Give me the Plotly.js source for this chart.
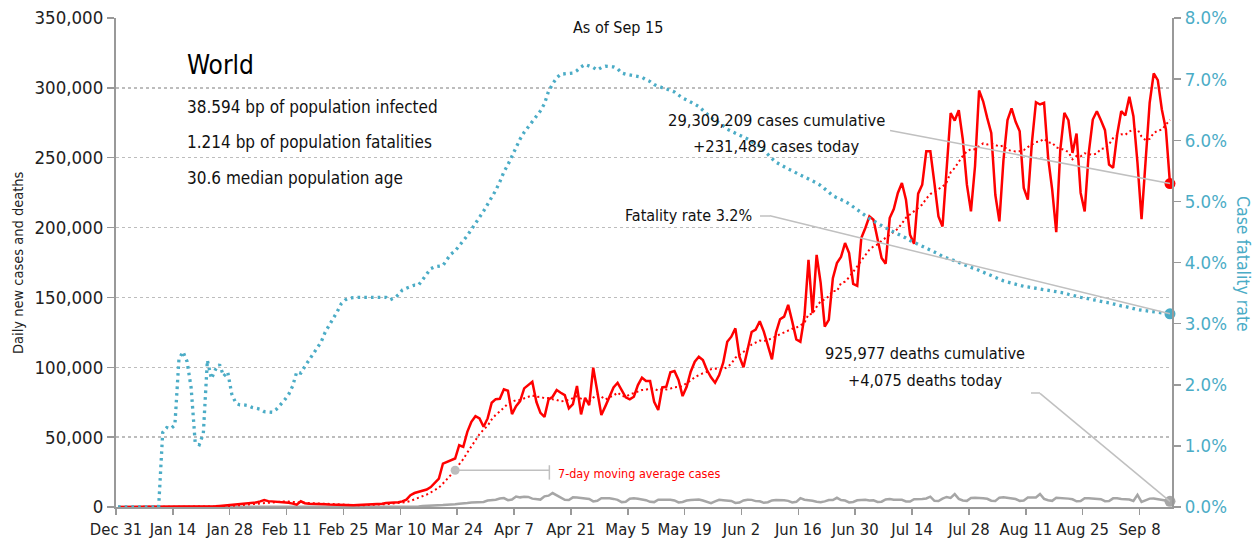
<!DOCTYPE html>
<html>
<head>
<meta charset="utf-8">
<script src="https://cdn.plot.ly/plotly-3.0.1.min.js"></script>
<style>html,body{margin:0;padding:0;background:#fff;}#chart{width:1256px;height:544px;}</style>
</head>
<body>
<div id="chart"></div>
<script>
// ---- DATA (one value per day, starting Dec 31 2019, ending Sep 15 2020) ----
const startDate = '2019-12-31';
const dailyCases = [
0,0,0,0,0,0,0,0,0,0,
0,0,0,0,0,0,0,0,0,0,
80,100,150,250,450,700,1000,1500,1800,1900,
2000,2200,2600,2900,3300,4000,5000,4200,4000,3700,
3600,3500,3000,2400,1700,4100,2700,2400,2400,2400,
2200,2000,1800,1700,1300,1000,1000,1100,1200,1400,
1500,1600,1700,1900,2100,2400,2800,3300,3300,3400,
4000,5300,8400,10000,10800,11500,12500,14300,17200,20300,
31100,32300,34000,34700,44200,43000,53800,61000,65000,63400,
57400,63400,74600,77200,77500,84200,83200,66500,72200,75800,
84900,87100,89700,75300,67400,64500,77000,78900,83700,81800,
80100,70600,73700,86600,66300,78200,72900,99700,83200,65800,
72200,78500,85600,88900,83200,78500,77000,78900,87300,92500,
90200,90200,75300,69400,85600,86100,96400,97300,90900,79400,
86100,96800,104000,107600,105200,98000,92800,88900,94400,103300,
118300,121900,127900,107600,100000,113000,125300,127000,133000,125500,
114800,105700,124800,134400,136300,144700,132700,120000,118300,136300,
176900,138700,180500,160200,129100,133900,163800,174600,178900,188900,
181700,159700,158300,192500,199700,208000,205600,191300,178200,174100,
206800,213300,224800,231900,220000,194900,188400,224300,230700,254600,
254600,231900,208000,200800,245000,282000,276600,284000,263000,230700,
211600,243900,298100,290400,278500,267700,223500,204400,248200,276900,
285300,275700,268900,228400,220000,260600,289700,288100,289300,250100,
227200,196700,255800,282100,276800,253400,267300,224800,211600,253400,
277300,283300,276800,269700,245100,242700,266600,283300,280200,293600,
279700,246300,206100,248700,289300,310300,305500,284500,270200,231489
];
const dailyDeaths = [
0,0,0,0,0,0,0,0,0,0,
1,0,0,0,0,0,0,1,1,0,
3,8,16,14,26,49,2,38,42,46,
43,46,45,57,64,66,72,73,86,89,
97,108,97,254,13,143,142,106,98,139,
115,125,4,207,19,153,71,52,42,53,
66,57,68,76,84,95,105,102,98,226,
275,339,342,447,370,650,715,862,952,1340,
1370,1680,1700,1890,2300,2400,2800,3200,3500,3300,
3600,4600,4900,5200,6100,6400,4900,5300,7500,6900,
7300,7200,6000,5400,5300,7600,8100,10000,8200,6400,
5200,5000,6900,6800,6500,6200,5700,4000,4500,6300,
6400,6200,5800,5100,3500,3800,5900,6300,5900,5300,
4900,3700,3500,5200,5300,5100,5200,4700,3300,3600,
4600,5000,5200,5400,4600,3400,2700,4000,5100,4800,
4600,4300,2900,3200,4700,5200,5100,4200,4100,3000,
3400,4700,5000,5000,4800,4400,3300,3700,6300,5200,
5000,4500,3700,3400,4000,5000,5000,6600,5000,4600,
3300,3600,4800,4900,5100,4600,4800,3600,3800,5400,
5700,5200,5300,5100,4000,3900,5600,5500,5800,6100,
7400,4400,4300,6000,7200,6500,9200,5800,4700,4400,
6400,6600,6600,6300,5900,4500,4300,6700,7000,6400,
6100,5700,4400,4700,6800,6600,6800,9300,5800,4800,
4400,6600,6500,6300,6000,5500,4100,4200,6200,6300,
6000,5800,5600,4200,4300,6200,6300,5800,5400,5400,
4300,8700,3600,4900,6000,6100,5600,5200,4300,4075
];
const fatalityRatePct = [
0,0,0,0,0,0,0,0,0,0,
0,1.22,1.30,1.28,1.34,2.42,2.54,2.38,1.95,1.05,
1.02,1.20,2.40,2.10,2.25,2.33,2.14,2.21,1.85,1.70,
1.67,1.67,1.66,1.63,1.62,1.60,1.56,1.55,1.55,1.60,
1.67,1.75,1.84,1.98,2.21,2.19,2.30,2.40,2.50,2.58,
2.70,2.86,2.97,3.08,3.20,3.33,3.39,3.42,3.43,3.43,
3.43,3.43,3.43,3.43,3.43,3.43,3.43,3.39,3.42,3.47,
3.55,3.58,3.61,3.63,3.63,3.72,3.82,3.90,3.93,3.94,
3.95,4.05,4.14,4.19,4.27,4.36,4.44,4.54,4.65,4.74,
4.84,4.95,5.08,5.18,5.32,5.48,5.60,5.74,5.90,6.02,
6.13,6.22,6.30,6.38,6.48,6.60,6.80,6.92,7.02,7.08,
7.09,7.09,7.10,7.14,7.20,7.24,7.22,7.19,7.15,7.19,
7.21,7.21,7.20,7.17,7.10,7.08,7.07,7.06,7.05,7.03,
6.99,6.96,6.91,6.88,6.86,6.84,6.82,6.79,6.74,6.69,
6.66,6.63,6.59,6.55,6.49,6.42,6.37,6.32,6.28,6.24,
6.18,6.15,6.11,6.08,6.05,6.02,5.98,5.94,5.90,5.84,
5.76,5.70,5.64,5.60,5.57,5.53,5.50,5.46,5.43,5.40,
5.37,5.34,5.30,5.26,5.21,5.15,5.09,5.06,5.04,5.00,
4.96,4.91,4.86,4.81,4.77,4.72,4.68,4.64,4.60,4.57,
4.53,4.50,4.47,4.44,4.40,4.36,4.33,4.30,4.27,4.24,
4.21,4.18,4.14,4.10,4.07,4.05,4.03,4.00,3.98,3.95,
3.92,3.90,3.87,3.84,3.81,3.78,3.75,3.73,3.70,3.68,
3.66,3.64,3.63,3.61,3.60,3.59,3.58,3.57,3.56,3.55,
3.54,3.53,3.51,3.50,3.48,3.46,3.44,3.43,3.42,3.40,
3.39,3.38,3.36,3.35,3.34,3.32,3.31,3.29,3.28,3.26,
3.25,3.23,3.22,3.21,3.20,3.19,3.18,3.17,3.16,3.16
];
const titleText = 'World';
const summaryLines = ['38.594 bp of population infected','1.214 bp of population fatalities','30.6 median population age'];
const casesNote = ['29,309,209 cases cumulative','+231,489 cases today'];
const deathsNote = ['925,977 deaths cumulative','+4,075 deaths today'];
const rateNote = 'Fatality rate 3.2%';
const maNote = '7-day moving average cases';
const asOfNote = 'As of Sep 15';
const leftTitle = 'Daily new cases and deaths';
const rightTitle = 'Case fatality rate';
const maAnnotDay = 83;

// ---- helpers ----
const DAY = 86400000;
const t0 = Date.parse(startDate + 'T00:00:00Z');
function dateAt(d){ return new Date(t0 + d*DAY).toISOString().slice(0,19).replace('T',' '); }
const dates = dailyCases.map((_,i)=>dateAt(i+0.5));
const movingAvg = dailyCases.map((_,i)=>{
  const s = Math.max(0,i-6); let sum=0;
  for(let k=s;k<=i;k++) sum+=dailyCases[k];
  return sum/(i-s+1);
});
const last = dailyCases.length-1;

const FONT = "'DejaVu Sans Condensed','DejaVu Sans',sans-serif";
const BLUE = '#4bacc6', RED = '#ff0000', GREY = '#a6a6a6', LEAD = '#c0c0c0';
const PL=116, PR=1172, PT=18, PB=507;
const px = x => (x-PL)/(PR-PL);
const py = y => (PB-y)/(PB-PT);

const traces = [
  {x:dates, y:dailyDeaths, type:'scatter', mode:'lines', line:{color:GREY,width:2.5}, hoverinfo:'skip'},
  {x:dates, y:movingAvg, type:'scatter', mode:'lines', line:{color:RED,width:2,dash:'2px,3px'}, hoverinfo:'skip'},
  {x:dates, y:dailyCases, type:'scatter', mode:'lines', line:{color:RED,width:2.5}, hoverinfo:'skip'},
  {x:dates, y:fatalityRatePct, yaxis:'y2', type:'scatter', mode:'lines', line:{color:BLUE,width:3.3,dash:'2.6px,4.1px'}, hoverinfo:'skip'},
  {x:[dates[maAnnotDay]], y:[movingAvg[maAnnotDay]], mode:'markers', marker:{color:'#bdbdbd',size:9}, hoverinfo:'skip'},
  {x:[dates[last]], y:[dailyDeaths[last]], mode:'markers', cliponaxis:false, marker:{color:GREY,size:11}, hoverinfo:'skip'},
  {x:[dates[last]], y:[dailyCases[last]], mode:'markers', cliponaxis:false, marker:{color:RED,size:11}, hoverinfo:'skip'},
  {x:[dates[last]], y:[fatalityRatePct[last]], yaxis:'y2', mode:'markers', cliponaxis:false, marker:{color:BLUE,size:11}, hoverinfo:'skip'}
];

const lead = {color:LEAD,width:1.5};
const shapes = [
  {type:'line', xref:'x', yref:'y', x0:dateAt(190.57), y0:269500, x1:dates[last], y1:dailyCases[last], line:lead},
  {type:'line', xref:'paper', yref:'paper', x0:px(760), y0:py(216), x1:px(770), y1:py(216), line:lead},
  {type:'line', xref:'x', yref:'y2', x0:dateAt(161.0), y0:4.766, x1:dates[last], y1:fatalityRatePct[last], line:lead},
  {type:'line', xref:'paper', yref:'paper', x0:px(1031), y0:py(393), x1:px(1040), y1:py(393), line:lead},
  {type:'line', xref:'x', yref:'y', x0:dateAt(227.5), y0:81300, x1:dates[last], y1:dailyDeaths[last], line:lead},
  {type:'line', xref:'x', yref:'y', x0:dates[maAnnotDay], y0:movingAvg[maAnnotDay], x1:dateAt(106.7), y1:26300, line:lead},
  {type:'line', xref:'x', yref:'y', x0:dateAt(106.7), y0:19600, x1:dateAt(106.7), y1:29900, line:lead}
];

const ann = (text,x,y,xa,size,color,extra) => Object.assign({text:text, xref:'paper', yref:'paper', x:px(x), y:py(y), xanchor:xa, yanchor:'middle', showarrow:false, font:{family:FONT,size:size,color:color||'#111'}}, extra||{});
const annotations = [
  ann(titleText,185,65,'left',26,'#000'),
  ann(summaryLines[0],185,107,'left',17),
  ann(summaryLines[1],185,142,'left',17),
  ann(summaryLines[2],185,178,'left',17),
  ann(asOfNote,618,28,'center',16),
  ann(casesNote[0],776,120,'center',16.4),
  ann(casesNote[1],776,146,'center',16.4),
  ann(rateNote,754,215,'right',16),
  ann(deathsNote[0],925,353,'center',16.2),
  ann(deathsNote[1],925,380,'center',16.2),
  ann(maNote,556,473,'left',12.5,RED),
  ann(leftTitle,18,263,'center',14.5,'#222',{textangle:-90, yanchor:'middle'}),
  ann(rightTitle,1243,264,'center',17.5,BLUE,{textangle:90, yanchor:'middle'})
];

const layout = {
  width:1256, height:544,
  margin:{l:PL, r:1256-PR, t:PT, b:544-PB, pad:0},
  paper_bgcolor:'#fff', plot_bgcolor:'#fff',
  font:{family:FONT, size:18, color:'#222'},
  showlegend:false,
  xaxis:{type:'date', range:[dateAt(0), dateAt(260)], tick0:startDate, dtick:14*DAY, tickformat:'%b %-d', tickangle:0,
    ticks:'outside', ticklen:6, tickwidth:1.5, tickcolor:'#999', showline:true, linecolor:'#999', linewidth:2,
    showgrid:false, zeroline:false, tickfont:{family:FONT,size:16.5,color:'#222'}},
  yaxis:{range:[0,350000], dtick:50000, tickformat:',d', ticks:'outside', ticklen:7, tickwidth:1.5, tickcolor:'#999',
    showline:true, linecolor:'#999', linewidth:2, showgrid:true, gridcolor:'#bdbdbd', gridwidth:1.5, griddash:'dot',
    zeroline:false, tickfont:{family:FONT,size:18.5,color:'#222'}},
  yaxis2:{range:[0,8], dtick:1, tickformat:'.1f', ticksuffix:'%', overlaying:'y', side:'right', ticks:'outside', ticklen:7,
    tickwidth:1.5, tickcolor:'#999', showline:true, linecolor:'#999', linewidth:2, showgrid:false, zeroline:false,
    tickfont:{family:FONT,size:18.5,color:BLUE}},
  shapes:shapes,
  annotations:annotations
};

Plotly.newPlot('chart', traces, layout, {displayModeBar:false, staticPlot:true});
</script>
</body>
</html>
